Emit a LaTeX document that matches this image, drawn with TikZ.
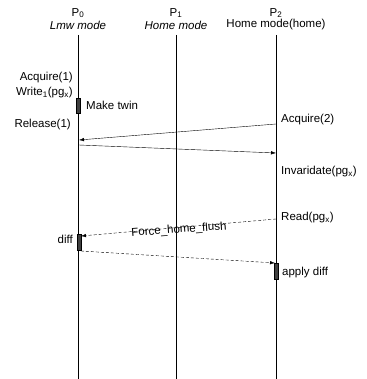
\documentclass[tikz,border=0pt]{standalone}
\usepackage{fontspec}
\setmainfont{Liberation Sans}
\usetikzlibrary{arrows.meta}
\begin{document}
\begin{tikzpicture}[x=1pt,y=-1pt,font=\fontsize{11.5}{13}\selectfont,
  lbl/.style={inner sep=1pt},
  life/.style={line width=0.9pt},
  msg/.style={-{Latex[length=5pt,width=3.5pt]},thin},
  dmsg/.style={-{Latex[length=5pt,width=3.5pt]},thin,densely dashed},
  blk/.style={draw,fill=black!75,minimum width=4pt,inner sep=0pt}]
\useasboundingbox (0,0) rectangle (366,379);
\foreach \n/\x/\m in {0/78/{\itshape Lmw mode},1/176/{\itshape Home mode},2/276/{Home mode(home)}} {
  \node[lbl] (p\n) at (\x,13) {P\textsubscript{\n}};
  \node[lbl] (m\n) at (\x,25) {\m};
  \coordinate (top\n) at (\x,35);
  \coordinate (bot\n) at (\x,379);
  \draw[life] (top\n) -- (bot\n);
}
% P0 events
\node[lbl,anchor=east] (acq1) at (74,78) {Acquire(1)};
\node[lbl,anchor=east] (wr1) at (74,93) {Write\textsubscript{1}(pg\textsubscript{x})};
\node[blk,minimum height=15pt] (twin) at (78,106) {};
\node[lbl,anchor=west] (twinl) at (85,105) {Make twin};
\node[lbl,anchor=east] (rel1) at (72,125) {Release(1)};
\node[lbl,anchor=east] (diffl) at (74,239) {diff};
\node[blk,minimum height=16pt] (diffbox) at (79,242) {};
% P2 events
\node[lbl,anchor=west] (acq2) at (280,120) {Acquire(2)};
\node[lbl,anchor=west] (inv) at (280,172) {Invaridate(pg\textsubscript{x})};
\node[lbl,anchor=west] (rd) at (280,218) {Read(pg\textsubscript{x})};
\node[blk,minimum height=16pt] (applybox) at (276,271) {};
\node[lbl,anchor=west] (applyl) at (281,273) {apply diff};
% messages
\coordinate (a2) at (276,124);
\coordinate (r1) at (79,140);
\coordinate (s0) at (79,145);
\coordinate (s2) at (276,153);
\coordinate (f2) at (276,219);
\coordinate (f0) at (81,236);
\coordinate (d0) at (81,251);
\coordinate (d2) at (275,263);
\draw[msg] (a2) -- (r1);
\draw[msg] (s0) -- (s2);
\draw[dmsg] (f2) -- (f0);
\node[lbl,rotate=4] (ffl) at (179,230) {Force\_home\_flush};
\draw[dmsg] (d0) -- (d2);
\end{tikzpicture}
\end{document}
